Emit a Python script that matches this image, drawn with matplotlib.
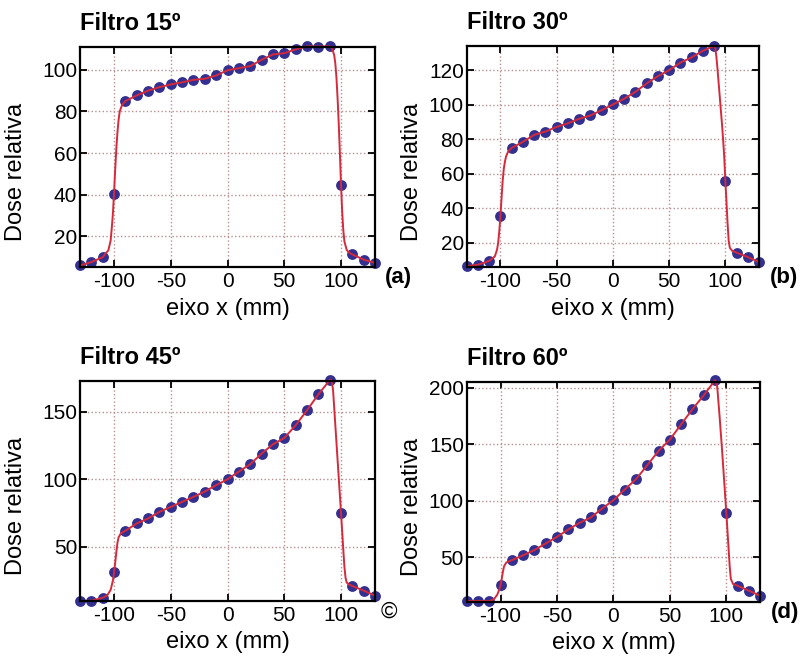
import matplotlib
matplotlib.use("Agg")
import matplotlib.pyplot as plt

plt.rcParams['font.family'] = ['Liberation Sans', 'DejaVu Sans']
plt.rcParams['axes.unicode_minus'] = False

# ---- measured points (blue markers) ----
x_pts = [-130, -120, -110, -100, -90, -80, -70, -60, -50, -40, -30, -20, -10, 0,
         10, 20, 30, 40, 50, 60, 70, 80, 90, 100, 110, 120, 130]

dose_a = [6.0, 7.6, 10.0, 40.5, 85.0, 87.7, 90.0, 91.7, 93.0, 94.0, 95.2, 95.7, 97.3, 99.8,
          100.8, 101.8, 104.8, 107.4, 108.0, 109.8, 111.3, 111.2, 111.3, 44.8, 11.3, 8.8, 7.2]
dose_b = [6.3, 7.2, 9.4, 35.5, 74.9, 78.4, 82.5, 84.4, 87.1, 89.2, 91.8, 93.7, 96.8, 100.1,
          103.4, 107.4, 112.3, 116.5, 120.0, 124.3, 127.4, 131.2, 134.1, 55.8, 14.2, 11.6, 8.7]
dose_c = [9.8, 10.0, 12.2, 31.0, 61.9, 67.3, 71.0, 75.9, 79.6, 83.3, 87.0, 91.0, 95.7, 100.1,
          105.8, 111.2, 119.1, 126.0, 130.7, 140.1, 151.2, 163.0, 173.5, 75.2, 20.9, 17.5, 13.7]
dose_d = [11.5, 11.5, 11.5, 25.6, 47.6, 52.0, 56.5, 62.4, 68.2, 74.7, 80.6, 85.3, 93.2, 100.6,
          110.0, 119.1, 131.5, 144.1, 154.1, 167.6, 180.9, 193.2, 206.5, 89.4, 25.0, 20.6, 16.2]

# ---- calculated profiles (red lines) ----
line_x_a = [-130, -120, -110, -105, -103, -102, -101, -100, -99, -98, -97, -96, -95, -93, -90,
            -80, -70, -60, -50, -40, -30, -20, -10, 0, 10, 20, 30, 40, 50, 60, 70, 80, 90,
            92, 94, 95, 96, 97, 98, 99, 100, 101, 102, 103, 105, 107, 110, 120, 130]
line_y_a = [6.0, 7.6, 10.0, 13.3, 18, 24, 31, 41, 52, 62, 70, 76, 80, 83, 85,
            87.7, 90.0, 91.7, 93.0, 94.0, 95.2, 95.7, 97.3, 99.8, 100.8, 101.8, 104.8, 107.4,
            108.0, 109.8, 111.3, 111.2, 111.3,
            110.5, 107, 103, 96, 86, 74, 60, 45, 32, 23, 17.5, 13.5, 12.2, 11.3, 8.8, 7.2]

line_x_b = [-130, -120, -110, -105, -103, -102, -101, -100, -99, -98, -97, -96, -95, -93, -90,
            -80, -70, -60, -50, -40, -30, -20, -10, 0, 10, 20, 30, 40, 50, 60, 70, 80, 90,
            91, 92, 93, 94, 95, 96, 97, 98, 99, 100, 101, 102, 103, 104, 106, 110, 120, 130]
line_y_b = [6.3, 7.2, 9.4, 12, 16, 20, 27, 35.5, 46, 56, 63, 67, 70, 73, 74.9,
            78.4, 82.5, 84.4, 87.1, 89.2, 91.8, 93.7, 96.8, 100.1, 103.4, 107.4, 112.3, 116.5,
            120.0, 124.3, 127.4, 131.2, 134.1,
            133, 128, 121, 113, 105, 97, 89, 80, 70, 56, 44, 31, 21, 17, 15.3, 14.2, 11.6, 8.7]

line_x_c = [-130, -120, -110, -106, -103, -101, -100, -99, -98, -97, -96, -94, -90,
            -80, -70, -60, -50, -40, -30, -20, -10, 0, 10, 20, 30, 40, 50, 60, 70, 80, 90,
            91, 92, 93, 95, 97, 100, 102, 103, 104, 105, 107, 110, 120, 130]
line_y_c = [9.8, 10.0, 12.2, 14, 18, 25, 31, 38, 46, 53, 57, 60, 61.9,
            67.3, 71.0, 75.9, 79.6, 83.3, 87.0, 91.0, 95.7, 100.1, 105.8, 111.2, 119.1, 126.0,
            130.7, 140.1, 151.2, 163.0, 173.5,
            174, 172, 166, 140, 114, 75.2, 48, 35, 27, 23.5, 22, 20.9, 17.5, 13.7]

line_x_d = [-130, -120, -110, -106, -103, -101, -100, -99, -98, -97, -95, -90,
            -80, -70, -60, -50, -40, -30, -20, -10, 0, 10, 20, 30, 40, 50, 60, 70, 80, 90,
            91, 92, 94, 96, 98, 100, 102, 103, 104, 106, 110, 120, 130]
line_y_d = [11.5, 11.5, 11.5, 13, 17, 22, 25.6, 31, 37, 42, 45.5, 47.6,
            52.0, 56.5, 62.4, 68.2, 74.7, 80.6, 85.3, 93.2, 100.6, 110.0, 119.1, 131.5, 144.1,
            154.1, 167.6, 180.9, 193.2, 206.5,
            205, 200, 175, 148, 119, 89.4, 58, 42, 31, 26.5, 25.0, 20.6, 16.2]

titles = ['Filtro 15º', 'Filtro 30º', 'Filtro 45º', 'Filtro 60º']
tags = ['(a)', '(b)', '©', '(d)']
x_ticks = [-100, -50, 0, 50, 100]
y_ticks = [[20, 40, 60, 80, 100], [20, 40, 60, 80, 100, 120], [50, 100, 150], [50, 100, 150, 200]]
y_lims = [(5.3, 110.9), (5.9, 134.1), (10.0, 173.0), (10.9, 205.0)]

pts = [dose_a, dose_b, dose_c, dose_d]
lines = [(line_x_a, line_y_a), (line_x_b, line_y_b), (line_x_c, line_y_c), (line_x_d, line_y_d)]

# axes rectangles in figure fraction [left, bottom, width, height]
rects = [[0.0995, 0.598, 0.367, 0.331],
         [0.5805, 0.598, 0.3636, 0.333],
         [0.0995, 0.0953, 0.367, 0.331],
         [0.5805, 0.0938, 0.365, 0.331]]
ylab_x = [-0.18, -0.15, -0.18, -0.15]
tag_x = [1.034, 1.038, 1.02, 1.038]

fig = plt.figure(figsize=(8.04, 6.64), dpi=100)
fig.patch.set_facecolor('white')

for i in range(4):
    ax = fig.add_axes(rects[i])
    lx, ly = lines[i]
    ax.plot(x_pts, pts[i], 'o', color='#33308f', markersize=7.8, markeredgewidth=0,
            zorder=3, clip_on=False)
    ax.plot(lx, ly, '-', color='#d42a3c', linewidth=1.4, zorder=4, clip_on=False,
            solid_joinstyle='round')
    ax.set_xlim(-130, 130)
    ax.set_ylim(*y_lims[i])
    ax.set_xticks(x_ticks)
    ax.set_yticks(y_ticks[i])
    ax.grid(True, linestyle=':', color='#b89090', linewidth=1.0, zorder=0)
    for s in ax.spines.values():
        s.set_linewidth(1.6)
        s.set_zorder(5)
    ax.tick_params(direction='in', top=True, right=True, length=5, width=1.3,
                   labelsize=15, colors='black')
    ax.tick_params(axis='y', pad=2)
    ax.tick_params(axis='x', pad=4)
    ax.set_xlabel('eixo x (mm)', fontsize=17)
    ax.set_ylabel('Dose relativa', fontsize=17)
    ax.xaxis.set_label_coords(0.5, -0.14)
    ax.yaxis.set_label_coords(ylab_x[i], 0.43)
    ax.set_title(titles[i], loc='left', fontsize=17, fontweight='bold', pad=12)
    if tags[i] == '©':
        ax.text(tag_x[i], -0.05, tags[i], transform=ax.transAxes, ha='left', va='center',
                fontsize=16)
    else:
        ax.text(tag_x[i], -0.05, tags[i], transform=ax.transAxes, ha='left', va='center',
                fontsize=16, fontweight='bold')

fig.savefig('out.png', dpi=100, facecolor='white')
